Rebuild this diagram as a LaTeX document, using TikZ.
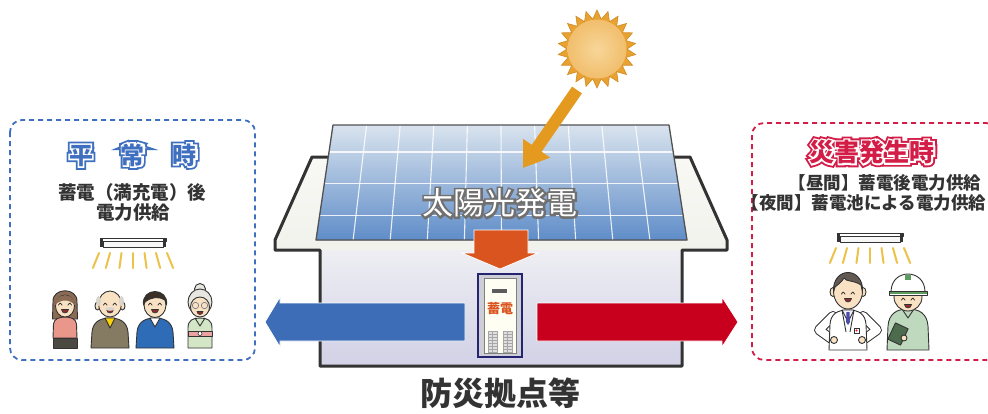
\documentclass[tikz,border=0pt]{standalone}
\usepackage{fontspec}
\newfontfamily\jpfont{Noto Sans CJK JP}
% emboldened cuts of the same family, used as underlays that form outlines
\newfontfamily\jpedgethin{Noto Sans CJK JP}[FakeBold=13]
\newfontfamily\jpedgemid{Noto Sans CJK JP}[BoldFeatures={FakeBold=13}]
\newfontfamily\jpedgewide{Noto Sans CJK JP}[BoldFeatures={FakeBold=28}]
\usetikzlibrary{arrows.meta,calc,shapes.geometric}

\definecolor{frameblue}{HTML}{3F6FBF}
\definecolor{framered}{HTML}{D31C46}
\definecolor{arrowblue}{HTML}{3C6DB6}
\definecolor{arrowred}{HTML}{C8001E}
\definecolor{sunspike}{HTML}{E8A232}
\definecolor{sunedge}{HTML}{D08A1C}
\definecolor{suninner}{HTML}{F7D699}
\definecolor{sunouter}{HTML}{F1BE6C}
\definecolor{rayorange}{HTML}{E39A1F}
\definecolor{downorange}{HTML}{D9541E}
\definecolor{walltop}{HTML}{EEEEF3}
\definecolor{wallbot}{HTML}{D2D1E6}
\definecolor{rooftop}{HTML}{F8F8F4}
\definecolor{roofbot}{HTML}{EAEAE4}
\definecolor{paneltop}{HTML}{D9E3EE}
\definecolor{panelbot}{HTML}{5F8DC8}
\definecolor{ink}{HTML}{333333}
\definecolor{skin}{HTML}{F9E1C4}
\definecolor{lampyellow}{HTML}{EDC24A}
\definecolor{hairbrown}{HTML}{8C6B55}
\definecolor{hairdark}{HTML}{3B3028}
\definecolor{hairgray}{HTML}{D9D5CC}
\definecolor{robeolive}{HTML}{857A62}
\definecolor{suitblue}{HTML}{2F6CB8}
\definecolor{kimono}{HTML}{D3E6C6}
\definecolor{obipink}{HTML}{E9A3A0}
\definecolor{topsalmon}{HTML}{E9978B}
\definecolor{skirtdark}{HTML}{4A4A42}
\definecolor{workgreen}{HTML}{BFD9BF}
\definecolor{boardgreen}{HTML}{4D6B4D}
\definecolor{helmetgreen}{HTML}{5C9C5C}
\definecolor{mouthred}{HTML}{8E2B2B}

\newcommand\jpsize[1]{\fontsize{#1}{#1}\selectfont}

\tikzset{
  ln/.style={draw=ink, line width=0.9pt, line join=round},
  txt/.style={inner sep=0pt},
  gridline/.style={draw=white, line width=1.1pt, opacity=0.85},
  dashframe/.style={line width=1.8pt, dash pattern=on 5pt off 4pt, rounded corners=12pt},
  lampray/.style={draw=lampyellow, line width=2pt, line cap=round},
  closedeye/.style={draw=ink, line width=0.8pt, line cap=round},
  lamp/.pic={
    \filldraw[ln, fill=white] (-33,0) rectangle (33,3);
    \filldraw[ln, fill=white!94!gray] (-30,3) rectangle (30,9);
    \fill[ink] (-33,0) rectangle (-30,9);
    \fill[ink] (30,0) rectangle (33,9);
    \foreach \dx in {-34,-23,-11.5,0,11.5,23,34}
      \draw[lampray] (\dx,15) -- ({1.18*\dx},30);
  },
  happyface/.pic={
    \draw[closedeye] (-6.5,1) .. controls (-5,-1.5) .. (-3,1);
    \draw[closedeye] (3,1) .. controls (5,-1.5) .. (6.5,1);
    \filldraw[fill=mouthred, draw=ink, line width=0.6pt] (-3.5,5.5) arc (180:0:3.5) -- cycle;
  }
}

\begin{document}
\begin{tikzpicture}[x=1pt,y=-1pt]
\path[use as bounding box, fill=white] (0,0) rectangle (988,413);

% ---------- side panels ----------
\draw[dashframe, draw=frameblue] (10,120) rectangle (255,360);
\draw[dashframe, draw=framered] (752,123) rectangle (998,360);

% ---------- house ----------
\fill[top color=rooftop, bottom color=roofbot]
  (312,157) -- (690,157) -- (727,240) -- (727,250) -- (682,250) -- (682,366)
  -- (320,366) -- (320,250) -- (275,250) -- (275,240) -- cycle;
\fill[top color=walltop, bottom color=wallbot] (320,250) rectangle (682,366);
\draw[draw=ink, line width=3pt, line join=round]
  (312,157) -- (690,157) -- (727,240) -- (727,250) -- (682,250) -- (682,366)
  -- (320,366) -- (320,250) -- (275,250) -- (275,240) -- cycle;

% solar panel
\coordinate (pTL) at (333,125);
\coordinate (pTR) at (669,125);
\coordinate (pBR) at (687,240);
\coordinate (pBL) at (316,240);
\fill[top color=paneltop, bottom color=panelbot] (pTL) -- (pTR) -- (pBR) -- (pBL) -- cycle;
\foreach \i in {1,...,9}
  \draw[gridline] ($(pTL)!\i/10!(pTR)$) -- ($(pBL)!\i/10!(pBR)$);
\foreach \f in {0.235,0.505,0.79}
  \draw[gridline] ($(pTL)!\f!(pBL)$) -- ($(pTR)!\f!(pBR)$);
\draw[draw=ink!85, line width=1.3pt, line join=round] (pTL) -- (pTR) -- (pBR) -- (pBL) -- cycle;

% sun
\node[star, star points=22, star point ratio=1.3, minimum size=78pt, inner sep=0pt,
      fill=sunspike, draw=sunedge, line width=0.6pt] (sun) at (597,49) {};
\node[circle, minimum size=59pt, inner sep=0pt, inner color=suninner, outer color=sunouter] (sunbody) at (sun) {};
\coordinate (ray-from) at (577,90);
\coordinate (ray-to) at (523,168);
\draw[draw=rayorange, line width=12pt, -{Triangle[width=31pt,length=24pt]}] (ray-from) -- (ray-to);

% panel caption: grey emboldened underlay, white text on top
\coordinate (pvpos) at (500,203);
\node[txt, text=ink!70, font=\jpedgethin\jpsize{31}] at (pvpos) {太陽光発電};
\node[txt, text=white, font=\jpfont\jpsize{31}] (pv-label) at (pvpos) {太陽光発電};

% charging arrow
\filldraw[fill=downorange, draw=white, line width=0.8pt]
  (474,230) -- (528,230) -- (528,253) -- (538,253) -- (500,269) -- (462,253) -- (474,253) -- cycle;

% storage unit
\node[draw=ink!70!blue, line width=1.5pt, fill=blue!10!gray!35, minimum width=44pt, minimum height=83pt, inner sep=0pt] (unit) at (500,315.5) {};
\filldraw[fill=white!95!yellow, draw=gray, line width=0.6pt] (484,278) rectangle (516,353);
\fill[ink!80] (492,289) rectangle (507,292.5);
\node[txt, text=downorange, font=\jpfont\jpsize{13}\bfseries] (unit-label) at (500,309) {蓄電};
\foreach \vx in {488,503}{
  \filldraw[fill=gray!25, draw=gray!70, line width=0.5pt] (\vx,331) rectangle ++(9,21);
  \foreach \vy in {334,337,...,350} \draw[gray!70, line width=0.4pt] (\vx,\vy) -- ++(9,0);
  \draw[gray!70, line width=0.4pt] (\vx+4.5,331) -- ++(0,21);
}

% supply arrows
\filldraw[fill=arrowblue, draw=white, line width=0.8pt]
  (465,303) -- (280,303) -- (280,297) -- (265,322) -- (280,347) -- (280,341) -- (465,341) -- cycle;
\filldraw[fill=arrowred, draw=white, line width=0.8pt]
  (537,303) -- (722,303) -- (722,297) -- (738,322) -- (722,347) -- (722,341) -- (537,341) -- cycle;

% base caption
\node[txt, text=ink, font=\jpfont\jpsize{32}\bfseries] (base-label) at (500,393) {防災拠点等};

% ---------- normal times ----------
\coordinate (ntpos) at (133,155);
\node[txt, text=frameblue, font=\jpedgewide\jpsize{24}\bfseries] at (ntpos) {平\hspace{28pt}常\hspace{28pt}時};
\node[txt, text=white, font=\jpedgemid\jpsize{24}\bfseries] at (ntpos) {平\hspace{28pt}常\hspace{28pt}時};
\node[txt, text=frameblue, font=\jpfont\jpsize{24}\bfseries] (normal-title) at (ntpos) {平\hspace{28pt}常\hspace{28pt}時};
\node[txt, text=ink, font=\jpfont\jpsize{18.5}\bfseries] (normal-l1) at (132,192) {蓄電（満充電）後};
\node[txt, text=ink, font=\jpfont\jpsize{18.5}\bfseries] (normal-l2) at (133,213) {電力供給};
\pic (lamp-normal) at (133,238) {lamp};

% woman
\begin{scope}[shift={(65,304)}]
  \filldraw[ln, fill=hairbrown] (-12,-2) .. controls (-13,-17) and (13,-17) .. (12,-2) -- (12.5,15) -- (-12.5,15) -- cycle;
  \filldraw[ln, fill=topsalmon] (-12,34) -- (-11.5,20) .. controls (-11,15) and (-6,13) .. (0,13) .. controls (6,13) and (11,15) .. (11.5,20) -- (12,34) -- cycle;
  \filldraw[ln, fill=skirtdark] (-12,34) rectangle (12,44);
  \filldraw[ln, fill=skin] (0,2) ellipse (9.5 and 11);
  \fill[hairbrown] (-10,1) .. controls (-10,-12) and (10,-12) .. (10,1) .. controls (4,-5) and (-4,-5) .. cycle;
  \pic {happyface};
\end{scope}

% elderly man
\begin{scope}[shift={(110,304)}]
  \filldraw[ln, fill=robeolive] (-19,44) -- (-18,28) .. controls (-17,18) and (-10,14) .. (0,14) .. controls (10,14) and (17,18) .. (18,28) -- (19,44) -- cycle;
  \filldraw[ln, fill=yellow!70!orange] (-5,14) -- (5,14) -- (0,24) -- cycle;
  \filldraw[ln, fill=skin] (-12.5,2) ellipse (2.5 and 4);
  \filldraw[ln, fill=skin] (12.5,2) ellipse (2.5 and 4);
  \filldraw[ln, fill=skin] (0,0) ellipse (11.5 and 13);
  \fill[hairgray] (-11.5,-3) ellipse (2.5 and 5);
  \fill[hairgray] (11.5,-3) ellipse (2.5 and 5);
  \pic {happyface};
  \fill[hairgray] (0,5) ellipse (5 and 1.8);
\end{scope}

% young man
\begin{scope}[shift={(155,304)}]
  \filldraw[ln, fill=suitblue] (-19,44) -- (-18,28) .. controls (-17,18) and (-10,14) .. (0,14) .. controls (10,14) and (17,18) .. (18,28) -- (19,44) -- cycle;
  \filldraw[ln, fill=white] (-5,14) -- (5,14) -- (0,23) -- cycle;
  \filldraw[ln, fill=skin] (0,1) ellipse (11 and 12.5);
  \filldraw[ln, fill=hairdark] (-11.5,1) .. controls (-14,-17) and (14,-17) .. (11.5,1) -- (10,-4) .. controls (4,-8) and (-4,-7) .. (-10,-2) -- cycle;
  \pic {happyface};
\end{scope}

% elderly woman
\begin{scope}[shift={(200,304)}]
  \filldraw[ln, fill=kimono] (-12,44) -- (-12,24) .. controls (-12,16) and (-7,14) .. (0,14) .. controls (7,14) and (12,16) .. (12,24) -- (12,44) -- cycle;
  \draw[ln] (-5,14) -- (0,22) -- (5,14);
  \filldraw[ln, fill=obipink] (-12,27) rectangle (12,32);
  \filldraw[ln, fill=white, line width=0.6pt] (0,29.5) circle (2);
  \filldraw[ln, fill=hairgray!60!white] (0,-15) circle (5.5);
  \filldraw[ln, fill=hairgray!60!white] (0,-2) ellipse (12 and 13);
  \filldraw[ln, fill=skin] (0,3) ellipse (9.5 and 10);
  \draw[draw=gray, line width=0.7pt] (-4.5,1.5) circle (3.2) (4.5,1.5) circle (3.2);
  \filldraw[fill=mouthred, draw=ink, line width=0.6pt] (-3,7.5) arc (180:0:3) -- cycle;
\end{scope}

% ---------- disaster times ----------
\coordinate (dtpos) at (872,152);
\node[txt, text=framered, font=\jpedgewide\jpsize{25}\bfseries] at (dtpos) {災害発生時};
\node[txt, text=white, font=\jpedgemid\jpsize{25}\bfseries] at (dtpos) {災害発生時};
\node[txt, text=framered, font=\jpfont\jpsize{25}\bfseries] (disaster-title) at (dtpos) {災害発生時};
\node[txt, text=ink, font=\jpfont\jpsize{17.5}\bfseries] (disaster-l1) at (885,183) {【昼間】蓄電後電力供給};
\node[txt, text=ink, font=\jpfont\jpsize{17.5}\bfseries] (disaster-l2) at (864,203) {【夜間】蓄電池による電力供給};
\pic (lamp-disaster) at (870,233) {lamp};

% site worker
\begin{scope}[shift={(908,292)}]
  \filldraw[ln, fill=workgreen] (-21,58) -- (-20,34) .. controls (-19,22) and (-12,17) .. (0,17) .. controls (12,17) and (19,22) .. (20,34) -- (21,58) -- cycle;
  \draw[ln] (-6,17) -- (0,26) -- (6,17);
  \filldraw[ln, fill=boardgreen, rotate around={-25:(-10,42)}] (-17,33) rectangle (-3,51);
  \filldraw[ln, fill=skin] (-4,46) circle (3);
  \filldraw[ln, fill=skin] (0,5) ellipse (14 and 14);
  \filldraw[ln, fill=white] (-17,0) .. controls (-17,-24) and (17,-24) .. (17,0) -- cycle;
  \fill[helmetgreen] (-3,-17) rectangle (3,-12);
  \filldraw[ln, fill=white] (-19,-1) rectangle (19,3);
  \fill[helmetgreen] (-18.5,0) rectangle (18.5,2);
  \begin{scope}[shift={(0,7)}] \pic {happyface}; \end{scope}
\end{scope}

% doctor
\begin{scope}[shift={(848,290)}]
  \foreach \sx in {-1,1}{
    \draw[draw=ink, line width=10pt, line cap=round, line join=round] (\sx*15,26) -- (\sx*29,40) -- (\sx*15,50);
    \draw[draw=white, line width=8pt, line cap=round, line join=round] (\sx*15,26) -- (\sx*29,40) -- (\sx*15,50);
  }
  \filldraw[ln, fill=white] (-19,60) -- (-18,34) .. controls (-17,24) and (-11,20) .. (0,20) .. controls (11,20) and (17,24) .. (18,34) -- (19,60) -- cycle;
  \filldraw[ln, fill=blue!5!white] (-6,20) -- (0,32) -- (6,20) -- cycle;
  \fill[blue!50!black!70] (-1.5,22) -- (1.5,22) -- (2,32) -- (0,35) -- (-2,32) -- cycle;
  \draw[ln] (-6,20) -- (-2,42) (6,20) -- (2,42);
  \filldraw[draw=ink, fill=white, line width=0.5pt] (6,38) rectangle (11,43);
  \fill[red] (8.5,40.5) circle (1.2);
  \foreach \sx in {-1,1} \filldraw[ln, fill=skin] (\sx*14,50) circle (3.5);
  \filldraw[ln, fill=skin] (-15,2) ellipse (3 and 4.5);
  \filldraw[ln, fill=skin] (15,2) ellipse (3 and 4.5);
  \filldraw[ln, fill=skin] (0,1) ellipse (14.5 and 18);
  \filldraw[ln, fill=hairdark!80] (-14.5,2) .. controls (-16,-24) and (16,-24) .. (14.5,2) -- (13,-5) .. controls (6,-10) and (-2,-8) .. (-4,-12) .. controls (-7,-7) and (-11,-5) .. (-13,-3) -- cycle;
  \begin{scope}[shift={(0,3)}] \pic {happyface}; \end{scope}
\end{scope}

\end{tikzpicture}
\end{document}
